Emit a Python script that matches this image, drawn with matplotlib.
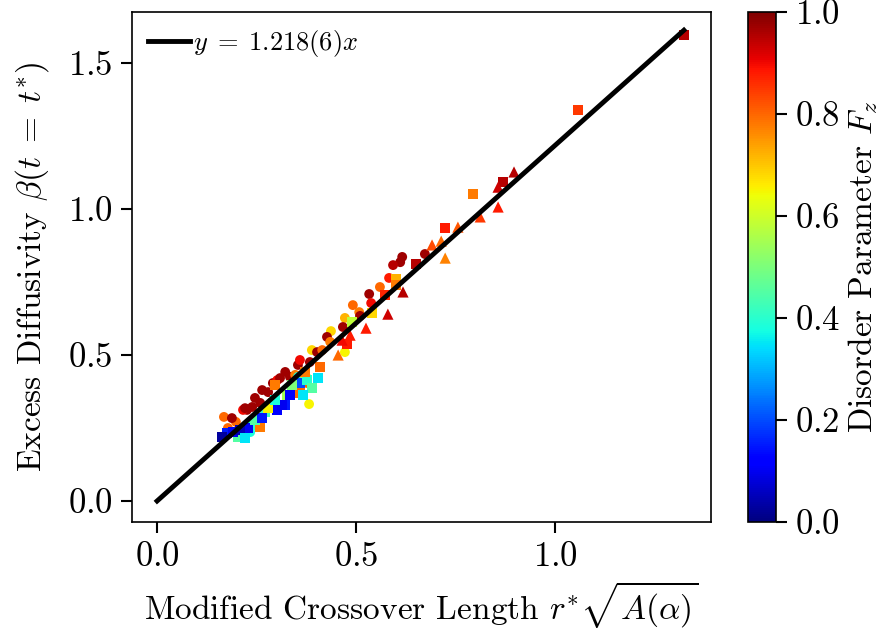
import numpy as np
import matplotlib
matplotlib.use('Agg')
import matplotlib.pyplot as plt

plt.rcParams['font.family'] = 'serif'
plt.rcParams['font.serif'] = ['cmr10']
plt.rcParams['mathtext.fontset'] = 'cm'
plt.rcParams['axes.formatter.use_mathtext'] = True
plt.rcParams['axes.unicode_minus'] = False

# circles: x, y, disorder parameter
circ_x = [0.673, 0.616, 0.611, 0.593, 0.583, 0.560, 0.533, 0.538, 0.492, 0.508,
          0.510, 0.472, 0.467, 0.437, 0.427, 0.435, 0.472, 0.389, 0.402, 0.384,
          0.354, 0.322, 0.334, 0.347, 0.377, 0.354, 0.291, 0.367, 0.382, 0.264,
          0.302, 0.226, 0.239, 0.259, 0.168, 0.198, 0.178, 0.234, 0.216,
          0.221, 0.377, 0.188, 0.246, 0.279, 0.309, 0.359, 0.415]
circ_y = [0.846, 0.836, 0.818, 0.808, 0.764, 0.733, 0.709, 0.678, 0.671, 0.647,
          0.634, 0.627, 0.596, 0.582, 0.562, 0.545, 0.510, 0.517, 0.510, 0.476,
          0.466, 0.442, 0.425, 0.432, 0.421, 0.425, 0.404, 0.408, 0.332, 0.380,
          0.414, 0.312, 0.322, 0.336, 0.288, 0.271, 0.250, 0.236, 0.312,
          0.318, 0.404, 0.284, 0.353, 0.373, 0.421, 0.483, 0.517]
circ_c = [0.97, 0.97, 0.97, 0.95, 0.88, 0.80, 0.97, 0.90, 0.80, 0.78,
          0.97, 0.72, 0.97, 0.68, 0.97, 0.78, 0.65, 0.68, 0.97, 0.97,
          0.97, 0.97, 0.97, 0.78, 0.50, 0.40, 0.97, 0.65, 0.65, 0.97,
          0.90, 0.97, 0.97, 0.97, 0.80, 0.80, 0.80, 0.38, 0.90,
          0.97, 0.80, 0.97, 0.97, 0.97, 0.97, 0.90, 0.80]

# squares
sq_x = [1.324, 1.058, 0.869, 0.794, 0.724, 0.651, 0.601, 0.601, 0.573, 0.477,
        0.410, 0.354, 0.296, 0.291, 0.271, 0.302, 0.322, 0.347, 0.359, 0.359,
        0.377, 0.327, 0.314, 0.251, 0.234, 0.204, 0.176, 0.191, 0.259, 0.229,
        0.490, 0.540, 0.405, 0.389, 0.367,
        0.163, 0.209, 0.221, 0.246, 0.264, 0.279, 0.296, 0.334, 0.339, 0.372]
sq_y = [1.596, 1.339, 1.092, 1.051, 0.935, 0.812, 0.760, 0.740, 0.705, 0.538,
        0.459, 0.394, 0.397, 0.336, 0.305, 0.312, 0.329, 0.373, 0.404, 0.370,
        0.414, 0.363, 0.329, 0.277, 0.260, 0.219, 0.233, 0.236, 0.253, 0.250,
        0.613, 0.644, 0.421, 0.387, 0.363,
        0.219, 0.243, 0.216, 0.277, 0.284, 0.318, 0.346, 0.363, 0.397, 0.442]
sq_c = [0.95, 0.85, 0.95, 0.78, 0.88, 0.95, 0.72, 0.78, 0.87, 0.88,
        0.80, 0.20, 0.78, 0.55, 0.42, 0.12, 0.15, 0.50, 0.20, 0.80,
        0.40, 0.55, 0.10, 0.12, 0.40, 0.45, 0.15, 0.10, 0.78, 0.10,
        0.58, 0.68, 0.35, 0.45, 0.35,
        0.03, 0.05, 0.35, 0.45, 0.15, 0.65, 0.38, 0.12, 0.50, 0.78]

# triangles
tri_x = [0.897, 0.857, 0.857, 0.812, 0.756, 0.714, 0.691, 0.724, 0.618, 0.580,
         0.525, 0.485, 0.465, 0.455]
tri_y = [1.127, 1.075, 1.007, 0.973, 0.938, 0.890, 0.877, 0.832, 0.716, 0.640,
         0.592, 0.568, 0.551, 0.500]
tri_c = [0.95, 0.93, 0.88, 0.85, 0.82, 0.80, 0.83, 0.77, 0.95, 0.93,
         0.88, 0.88, 0.90, 0.80]

slope = 1.218

fig = plt.figure(figsize=(8.83, 6.38), dpi=100)
ax = fig.add_axes([0.1495, 0.1818, 0.6557, 0.7994])
cax = fig.add_axes([0.8471, 0.1818, 0.0317, 0.7994])

kw = dict(cmap='jet', vmin=0, vmax=1, linewidths=0)
sc = ax.scatter(circ_x, circ_y, c=circ_c, marker='o', s=50, **kw)
ax.scatter(sq_x, sq_y, c=sq_c, marker='s', s=50, **kw)
ax.scatter(tri_x, tri_y, c=tri_c, marker='^', s=65, **kw)

xmax = max(circ_x + sq_x + tri_x)
xl = np.array([0, xmax])
ax.plot(xl, slope * xl, color='k', lw=3.5, label=r'$y\;=\;1.218(6)x$', zorder=5)

ax.set_xlim(-0.063, 1.392)
ax.set_ylim(-0.072, 1.675)
ax.set_xticks([0.0, 0.5, 1.0])
ax.set_yticks([0.0, 0.5, 1.0, 1.5])
ax.tick_params(direction='out', length=8, width=1.5, labelsize=25, pad=6)
for sp in ax.spines.values():
    sp.set_linewidth(1.2)
ax.set_xlabel(r'Modified Crossover Length $r^{*}\sqrt{A(\alpha)}$', fontsize=24, labelpad=4)
ax.set_ylabel(r'Excess Diffusivity $\beta(t\;=\;t^{*})$', fontsize=24, labelpad=12)
ax.legend(loc='upper left', frameon=False, fontsize=19, handlelength=1.6, handletextpad=0.1,
          borderaxespad=0.2)

cb = fig.colorbar(sc, cax=cax, ticks=[0, 0.2, 0.4, 0.6, 0.8, 1.0])
cb.ax.tick_params(direction='out', length=8, width=1.5, labelsize=25, pad=6)
cb.outline.set_linewidth(1.2)
cb.set_label(r'Disorder Parameter $F_z$', fontsize=24, labelpad=4)

plt.savefig('out.png', dpi=100)
